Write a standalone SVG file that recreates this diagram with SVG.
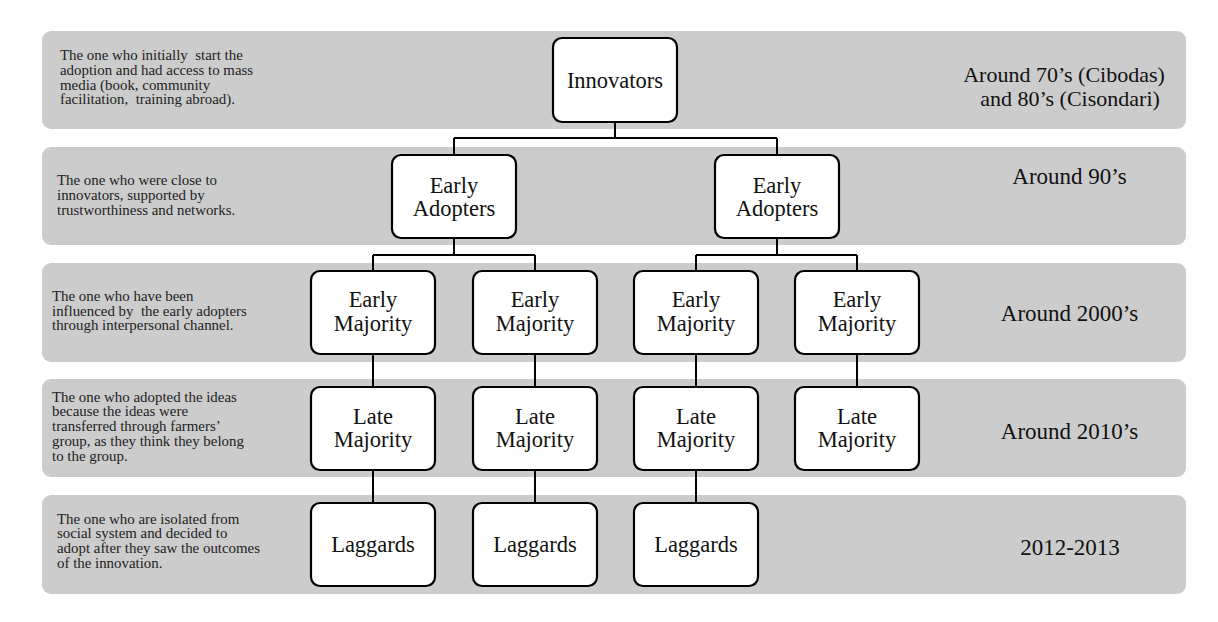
<svg xmlns="http://www.w3.org/2000/svg" width="1218" height="622" viewBox="0 0 1218 622">
<style>
.band{fill:#cccccc;}
.box{fill:#ffffff;stroke:#000;stroke-width:2.2;}
.node{font-family:"Liberation Serif","Times New Roman",serif;font-size:22.5px;fill:#111;text-anchor:middle;}
.side{font-family:"Liberation Serif","Times New Roman",serif;font-size:23px;fill:#111;text-anchor:middle;}
.desc{font-family:"Liberation Serif","Times New Roman",serif;font-size:14.9px;fill:#222;white-space:pre;}
.conn{fill:none;stroke:#000;stroke-width:2;}
</style>
<rect width="1218" height="622" fill="#ffffff"/>
<g id="bands">
<rect class="band" x="42" y="31" width="1144" height="98" rx="9"/>
<rect class="band" x="42" y="147" width="1144" height="98" rx="9"/>
<rect class="band" x="42" y="263" width="1144" height="99" rx="9"/>
<rect class="band" x="42" y="379" width="1144" height="98" rx="9"/>
<rect class="band" x="42" y="495" width="1144" height="99" rx="9"/>
</g>
<g id="descriptions">
<text class="desc" xml:space="preserve"><tspan x="60" y="60">The one who initially  start the</tspan><tspan x="60" y="74.8">adoption and had access to mass</tspan><tspan x="60" y="89.6">media (book, community</tspan><tspan x="60" y="104.4">facilitation,  training abroad).</tspan></text>
<text class="desc" xml:space="preserve"><tspan x="57" y="185">The one who were close to</tspan><tspan x="57" y="199.8">innovators, supported by</tspan><tspan x="57" y="214.6">trustworthiness and networks.</tspan></text>
<text class="desc" xml:space="preserve"><tspan x="52" y="300.7">The one who have been</tspan><tspan x="52" y="315.5">influenced by  the early adopters</tspan><tspan x="52" y="330.3">through interpersonal channel.</tspan></text>
<text class="desc" xml:space="preserve"><tspan x="52" y="401.5">The one who adopted the ideas</tspan><tspan x="52" y="416.3">because the ideas were</tspan><tspan x="52" y="431.1">transferred through farmers’</tspan><tspan x="52" y="445.9">group, as they think they belong</tspan><tspan x="52" y="460.7">to the group.</tspan></text>
<text class="desc" xml:space="preserve"><tspan x="57" y="523.5">The one who are isolated from</tspan><tspan x="57" y="538.3">social system and decided to</tspan><tspan x="57" y="553.1">adopt after they saw the outcomes</tspan><tspan x="57" y="567.9">of the innovation.</tspan></text>
</g>
<g id="periods">
<text class="side" style="font-size:22px"><tspan x="1064" y="82">Around 70’s (Cibodas)</tspan><tspan x="1070" y="106">and 80’s (Cisondari)</tspan></text>
<text class="side" x="1069.5" y="184">Around 90’s</text>
<text class="side" x="1069.5" y="321">Around 2000’s</text>
<text class="side" x="1069.5" y="439">Around 2010’s</text>
<text class="side" x="1070" y="555">2012-2013</text>
</g>
<g id="connectors">
<path class="conn" d="M615 122V138M454 138H777M454 138V155M777 138V155"/>
<path class="conn" d="M454 238V255M373 255H535M373 255V271M535 255V271"/>
<path class="conn" d="M777 238V255M696 255H857M696 255V271M857 255V271"/>
<path class="conn" d="M373 354V387M535 354V387M696 354V387M857 354V387"/>
<path class="conn" d="M373 470V503M535 470V503M696 470V503"/>
</g>
<g id="innovators"><rect class="box" x="553" y="38" width="124" height="84" rx="9"/><text class="node" x="615" y="88">Innovators</text></g>
<g id="early-adopters-1"><rect class="box" x="392" y="155" width="124" height="83" rx="9"/><text class="node"><tspan x="454" y="193">Early</tspan><tspan x="454" y="216">Adopters</tspan></text></g>
<g id="early-adopters-2"><rect class="box" x="715" y="155" width="124" height="83" rx="9"/><text class="node"><tspan x="777" y="193">Early</tspan><tspan x="777" y="216">Adopters</tspan></text></g>
<g id="early-majority-1"><rect class="box" x="311" y="271" width="124" height="83" rx="9"/><text class="node"><tspan x="373" y="307">Early</tspan><tspan x="373" y="330.5">Majority</tspan></text></g>
<g id="early-majority-2"><rect class="box" x="473" y="271" width="124" height="83" rx="9"/><text class="node"><tspan x="535" y="307">Early</tspan><tspan x="535" y="330.5">Majority</tspan></text></g>
<g id="early-majority-3"><rect class="box" x="634" y="271" width="124" height="83" rx="9"/><text class="node"><tspan x="696" y="307">Early</tspan><tspan x="696" y="330.5">Majority</tspan></text></g>
<g id="early-majority-4"><rect class="box" x="795" y="271" width="124" height="83" rx="9"/><text class="node"><tspan x="857" y="307">Early</tspan><tspan x="857" y="330.5">Majority</tspan></text></g>
<g id="late-majority-1"><rect class="box" x="311" y="387" width="124" height="83" rx="9"/><text class="node"><tspan x="373" y="423.5">Late</tspan><tspan x="373" y="447">Majority</tspan></text></g>
<g id="late-majority-2"><rect class="box" x="473" y="387" width="124" height="83" rx="9"/><text class="node"><tspan x="535" y="423.5">Late</tspan><tspan x="535" y="447">Majority</tspan></text></g>
<g id="late-majority-3"><rect class="box" x="634" y="387" width="124" height="83" rx="9"/><text class="node"><tspan x="696" y="423.5">Late</tspan><tspan x="696" y="447">Majority</tspan></text></g>
<g id="late-majority-4"><rect class="box" x="795" y="387" width="124" height="83" rx="9"/><text class="node"><tspan x="857" y="423.5">Late</tspan><tspan x="857" y="447">Majority</tspan></text></g>
<g id="laggards-1"><rect class="box" x="311" y="503" width="124" height="83" rx="9"/><text class="node" x="373" y="552">Laggards</text></g>
<g id="laggards-2"><rect class="box" x="473" y="503" width="124" height="83" rx="9"/><text class="node" x="535" y="552">Laggards</text></g>
<g id="laggards-3"><rect class="box" x="634" y="503" width="124" height="83" rx="9"/><text class="node" x="696" y="552">Laggards</text></g>
</svg>
